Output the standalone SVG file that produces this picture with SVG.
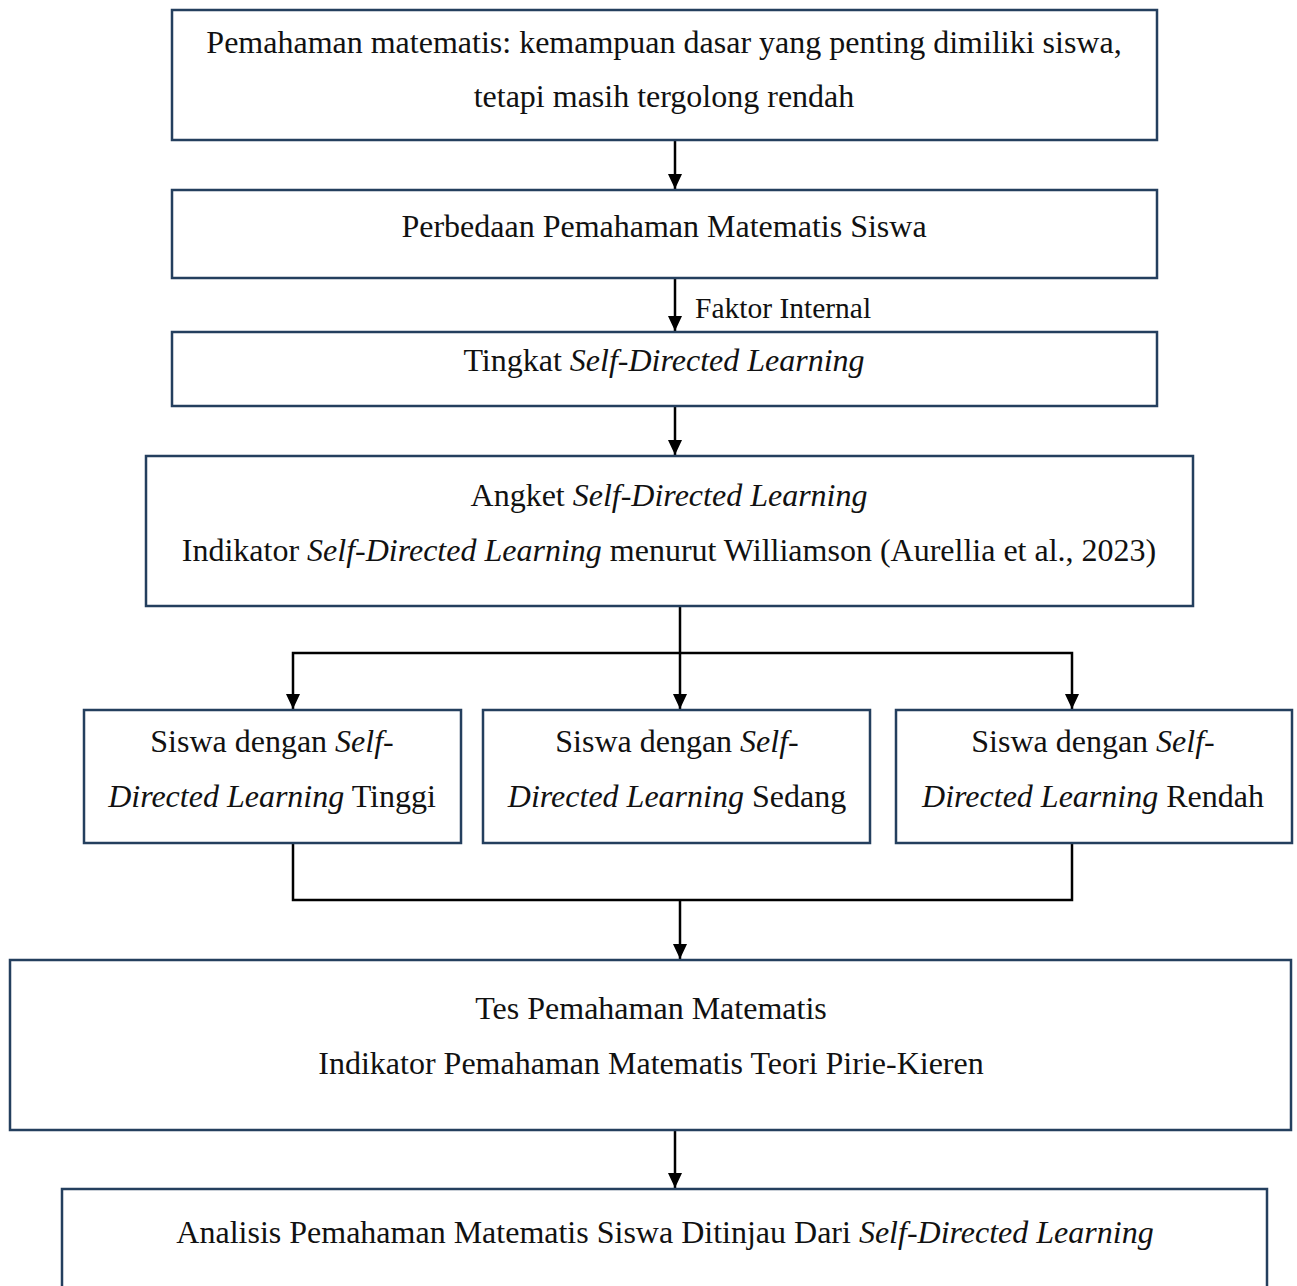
<svg xmlns="http://www.w3.org/2000/svg" width="1297" height="1286" viewBox="0 0 1297 1286">
<style>
.box{fill:#fff;stroke:#243F5E;stroke-width:2.5}
.t{font-family:"Liberation Serif","Times New Roman",serif;font-size:32px;fill:#111;text-anchor:middle}
.l{font-family:"Liberation Serif","Times New Roman",serif;font-size:29.5px;fill:#111}
.c{fill:none;stroke:#000;stroke-width:2.5}
</style>
<defs>
<marker id="ah" markerUnits="userSpaceOnUse" markerWidth="15" markerHeight="14" viewBox="0 0 15 14" refX="15" refY="7" orient="auto-start-reverse">
<path d="M0,0 L15,7 L0,14 Z" fill="#000"/>
</marker>
</defs>
<rect width="1297" height="1286" fill="#fff"/>
<g id="connectors">
<line class="c" x1="675" y1="140" x2="675" y2="189" marker-end="url(#ah)"/>
<line class="c" x1="675" y1="278" x2="675" y2="331" marker-end="url(#ah)"/>
<line class="c" x1="675" y1="406" x2="675" y2="455" marker-end="url(#ah)"/>
<line class="c" x1="680" y1="606" x2="680" y2="709" marker-end="url(#ah)"/>
<polyline class="c" points="293,709 293,653 1072,653 1072,709" marker-start="url(#ah)" marker-end="url(#ah)"/>
<polyline class="c" points="293,843 293,900 1072,900 1072,843"/>
<line class="c" x1="680" y1="900" x2="680" y2="959" marker-end="url(#ah)"/>
<line class="c" x1="675" y1="1130" x2="675" y2="1188" marker-end="url(#ah)"/>
<text class="l" x="695" y="318">Faktor Internal</text>
</g>
<g id="n1"><rect class="box" x="172" y="10" width="985" height="130"/>
<text class="t" x="664" y="53">Pemahaman matematis: kemampuan dasar yang penting dimiliki siswa,</text>
<text class="t" x="664" y="107">tetapi masih tergolong rendah</text></g>
<g id="n2"><rect class="box" x="172" y="190" width="985" height="88"/>
<text class="t" x="664" y="237">Perbedaan Pemahaman Matematis Siswa</text></g>
<g id="n3"><rect class="box" x="172" y="332" width="985" height="74"/>
<text class="t" x="664" y="371">Tingkat <tspan font-style="italic">Self-Directed Learning</tspan></text></g>
<g id="n4"><rect class="box" x="146" y="456" width="1047" height="150"/>
<text class="t" x="669" y="506">Angket <tspan font-style="italic">Self-Directed Learning</tspan></text>
<text class="t" x="669" y="561">Indikator <tspan font-style="italic">Self-Directed Learning</tspan> menurut Williamson (Aurellia et al., 2023)</text></g>
<g id="n5a"><rect class="box" x="84" y="710" width="377" height="133"/>
<text class="t" x="272" y="752">Siswa dengan <tspan font-style="italic">Self</tspan>-</text>
<text class="t" x="272" y="807"><tspan font-style="italic">Directed Learning</tspan> Tinggi</text></g>
<g id="n5b"><rect class="box" x="483" y="710" width="387" height="133"/>
<text class="t" x="677" y="752">Siswa dengan <tspan font-style="italic">Self</tspan>-</text>
<text class="t" x="677" y="807"><tspan font-style="italic">Directed Learning</tspan> Sedang</text></g>
<g id="n5c"><rect class="box" x="896" y="710" width="396" height="133"/>
<text class="t" x="1093" y="752">Siswa dengan <tspan font-style="italic">Self</tspan>-</text>
<text class="t" x="1093" y="807"><tspan font-style="italic">Directed Learning</tspan> Rendah</text></g>
<g id="n6"><rect class="box" x="10" y="960" width="1281" height="170"/>
<text class="t" x="651" y="1019">Tes Pemahaman Matematis</text>
<text class="t" x="651" y="1074">Indikator Pemahaman Matematis Teori Pirie-Kieren</text></g>
<g id="n7"><rect class="box" x="62" y="1189" width="1205" height="120"/>
<text class="t" x="665" y="1243">Analisis Pemahaman Matematis Siswa Ditinjau Dari <tspan font-style="italic">Self-Directed Learning</tspan></text></g>
</svg>
